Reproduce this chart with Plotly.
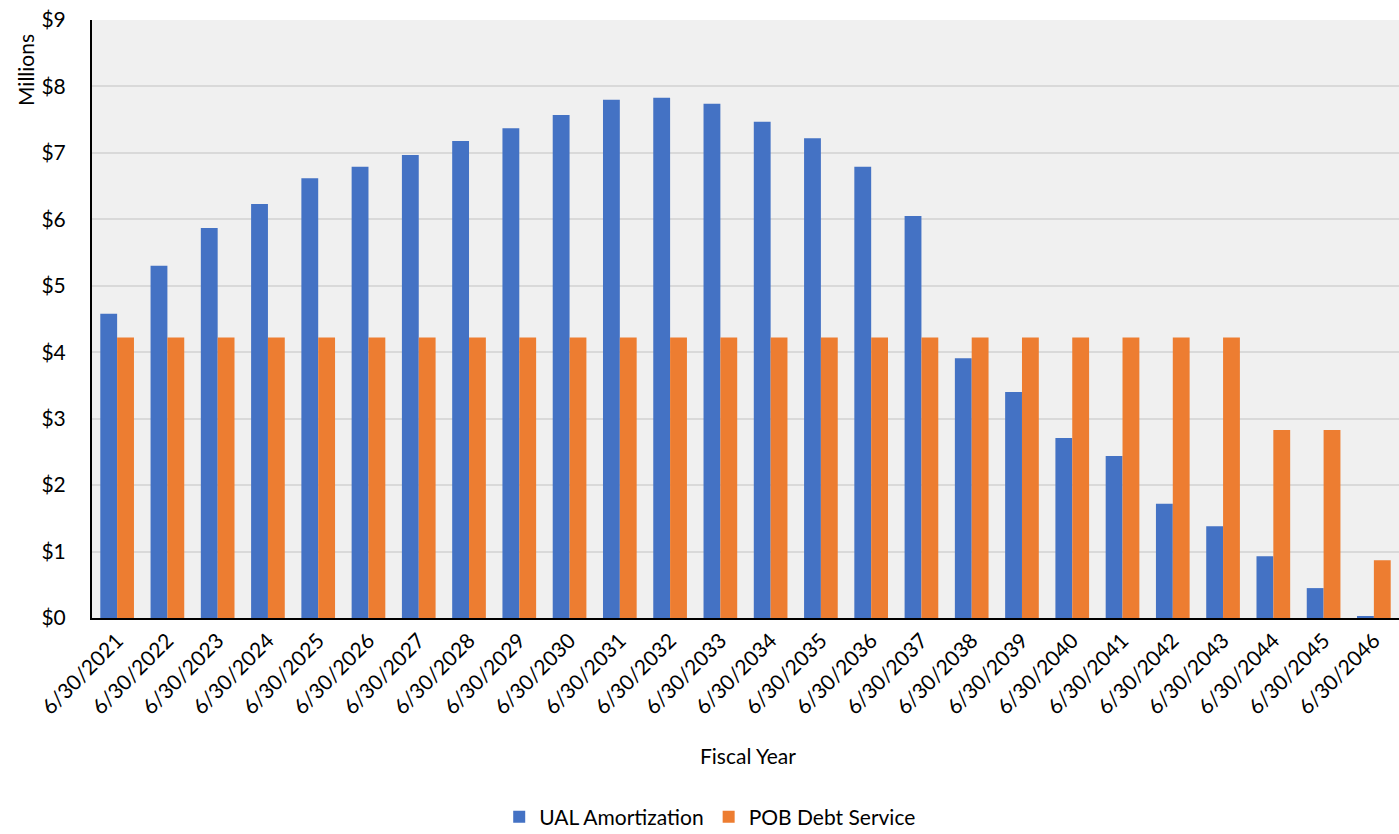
import plotly.graph_objects as go

years = [f"6/30/{y}" for y in range(2021, 2047)]
ual_amortization = [4.58, 5.30, 5.87, 6.23, 6.62, 6.79, 6.97, 7.18, 7.37, 7.57,
                    7.80, 7.83, 7.74, 7.47, 7.22, 6.79, 6.05, 3.91, 3.40, 2.71,
                    2.44, 1.72, 1.38, 0.93, 0.45, 0.02]
pob_debt_service = [4.22] * 23 + [2.83, 2.83, 0.87]
y_ticks = list(range(0, 10))
y_tick_labels = [f"${v}" for v in y_ticks]

FONT = "Lato"

fig = go.Figure()
fig.add_trace(go.Bar(x=years, y=ual_amortization, name="UAL Amortization",
                     marker=dict(color="#4472C4", line=dict(width=0))))
fig.add_trace(go.Bar(x=years, y=pob_debt_service, name="POB Debt Service",
                     marker=dict(color="#ED7D31", line=dict(width=0))))

fig.update_layout(
    width=1399, height=834,
    margin=dict(l=92, r=0, t=20, b=216, autoexpand=False),
    paper_bgcolor="white",
    plot_bgcolor="#F0F0F0",
    barmode="group",
    bargap=0.33,
    bargroupgap=0,
    font=dict(family=FONT, size=20, color="#000000"),
    showlegend=True,
    legend=dict(orientation="h", x=0.473, xanchor="center", y=-0.333, yanchor="middle",
                font=dict(size=21), itemwidth=30, traceorder="normal"),
    xaxis=dict(
        tickangle=-45, automargin=False,
        showline=True, linecolor="#000000", linewidth=2,
        showgrid=False, ticks="", tickfont=dict(size=21),
    ),
    yaxis=dict(
        range=[0, 9], automargin=False,
        tickvals=y_ticks, ticktext=y_tick_labels,
        showline=True, linecolor="#000000", linewidth=2,
        gridcolor="#D9D9D9", gridwidth=2, zeroline=False,
        ticks="", ticklabelstandoff=20, tickfont=dict(size=21),
    ),
    annotations=[
        dict(text="Fiscal Year", xref="paper", yref="paper",
             x=(748 - 92) / 1307, y=(618 - 755) / 598, xanchor="center", yanchor="middle",
             showarrow=False, font=dict(size=21)),
        dict(text="Millions", xref="paper", yref="paper",
             x=(25 - 92) / 1307, y=(618 - 70) / 598, xanchor="center", yanchor="middle",
             textangle=-90, showarrow=False, font=dict(size=21)),
    ],
)

fig.write_html("out.html")
